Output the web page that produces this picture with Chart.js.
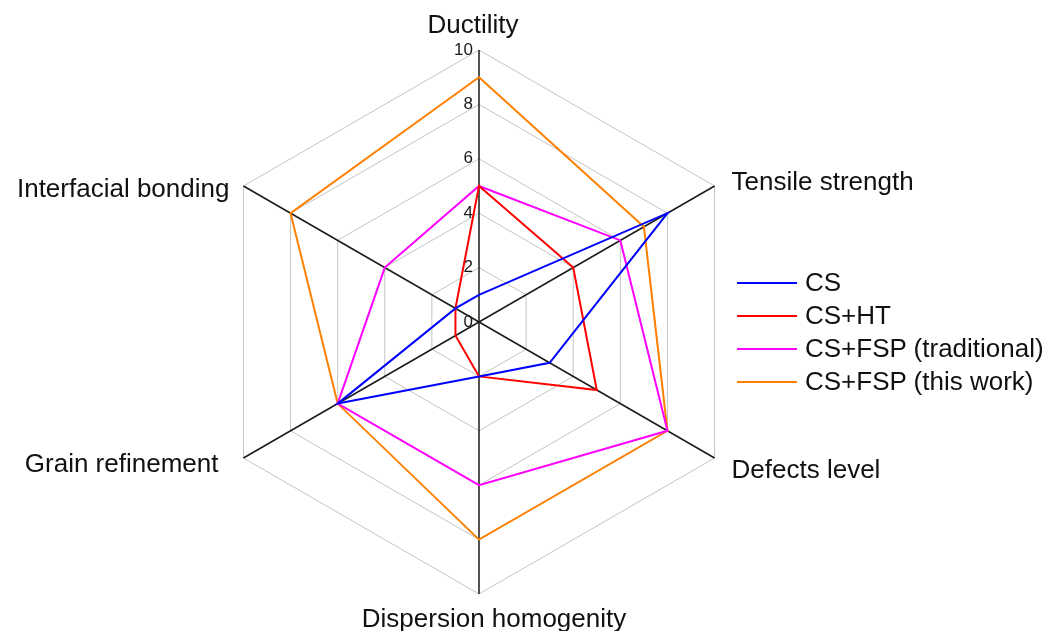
<!DOCTYPE html>
<html>
<head>
<meta charset="utf-8">
<script src="https://cdn.jsdelivr.net/npm/chart.js@4.4.1/dist/chart.umd.min.js"></script>
<style>
  body { margin: 0; background: #fff; }
  #wrap { position: relative; width: 1056px; height: 631px; }
  #legend {
    position: absolute; left: 737px; top: 266px; margin: 0; padding: 0; list-style: none;
    font: 26px 'Liberation Sans', Arial, sans-serif; color: #111;
  }
  #legend li { display: flex; align-items: center; height: 33px; white-space: nowrap; }
  #legend .swatch { display: inline-block; width: 60px; height: 0; border-top: 2px solid; margin-right: 8px; }
</style>
</head>
<body>
<div id="wrap">
  <canvas id="radar" width="1056" height="631"></canvas>
  <ul id="legend"></ul>
</div>
<script>
const axisLabels = ['Ductility', 'Tensile strength', 'Defects level', 'Dispersion homogenity', 'Grain refinement', 'Interfacial bonding'];
const tickValues = [0, 2, 4, 6, 8, 10];
const seriesNames = ['CS', 'CS+HT', 'CS+FSP (traditional)', 'CS+FSP (this work)'];
const csValues = [1, 8, 3, 2, 6, 1];
const csHtValues = [5, 4, 5, 2, 1, 1];
const fspTraditionalValues = [5, 6, 8, 6, 6, 4];
const fspThisWorkValues = [9, 7, 8, 8, 6, 8];

const seriesColors = ['#0000ff', '#ff0000', '#ff00ff', '#ff8000'];
// where each axis title sits relative to the tip of its axis: dx, dy (baseline), align
const labelPlacement = [
  [-6, -17, 'center'],
  [17, 4, 'left'],
  [17, 20, 'left'],
  [15, 33, 'center'],
  [-25, 14, 'right'],
  [-14, 11, 'right'],
];
const fontFamily = '"Liberation Sans", Arial, sans-serif';

const tickLabelPlugin = {
  id: 'tickLabels',
  beforeDatasetsDraw(chart) {
    const scale = chart.scales.r;
    const { ctx } = chart;
    ctx.save();
    ctx.font = `17px ${fontFamily}`;
    ctx.fillStyle = '#1a1a1a';
    ctx.textAlign = 'right';
    ctx.textBaseline = 'middle';
    tickValues.forEach((value) => {
      const y = scale.yCenter - scale.getDistanceFromCenterForValue(value);
      ctx.fillText(String(value), scale.xCenter - 6, y);
    });
    ctx.restore();
  },
};

const axisLabelPlugin = {
  id: 'axisLabels',
  afterDraw(chart) {
    const scale = chart.scales.r;
    const { ctx } = chart;
    ctx.save();
    ctx.font = `26px ${fontFamily}`;
    ctx.fillStyle = '#111';
    ctx.textBaseline = 'alphabetic';
    axisLabels.forEach((label, i) => {
      const tip = scale.getPointPositionForValue(i, scale.max);
      const [dx, dy, align] = labelPlacement[i];
      ctx.textAlign = align;
      ctx.fillText(label, tip.x + dx, tip.y + dy);
    });
    ctx.restore();
  },
};

const htmlLegendPlugin = {
  id: 'htmlLegend',
  afterUpdate(chart) {
    const list = document.getElementById('legend');
    list.innerHTML = '';
    chart.data.datasets.forEach((dataset) => {
      const item = document.createElement('li');
      const swatch = document.createElement('span');
      swatch.className = 'swatch';
      swatch.style.borderTopColor = dataset.borderColor;
      const text = document.createElement('span');
      text.textContent = dataset.label;
      item.append(swatch, text);
      list.append(item);
    });
  },
};

const seriesValues = [csValues, csHtValues, fspTraditionalValues, fspThisWorkValues];

new Chart(document.getElementById('radar'), {
  type: 'radar',
  data: {
    labels: axisLabels,
    datasets: seriesNames.map((name, i) => ({
      label: name,
      data: seriesValues[i],
      borderColor: seriesColors[i],
      backgroundColor: seriesColors[i],
      borderWidth: 2,
      borderJoinStyle: 'miter',
      fill: false,
      pointRadius: 0,
      pointHoverRadius: 0,
    })),
  },
  options: {
    responsive: false,
    animation: false,
    layout: { padding: { left: 207, right: 305, top: 50, bottom: 37 } },
    plugins: {
      legend: { display: false },
      tooltip: { enabled: false },
    },
    scales: {
      r: {
        min: 0,
        max: 10,
        ticks: { stepSize: 2, display: false },
        grid: { color: '#c4c4c4', lineWidth: 1 },
        angleLines: { color: '#1a1a1a', lineWidth: 1.5 },
        pointLabels: { display: false },
      },
    },
  },
  plugins: [tickLabelPlugin, axisLabelPlugin, htmlLegendPlugin],
});
</script>
</body>
</html>
